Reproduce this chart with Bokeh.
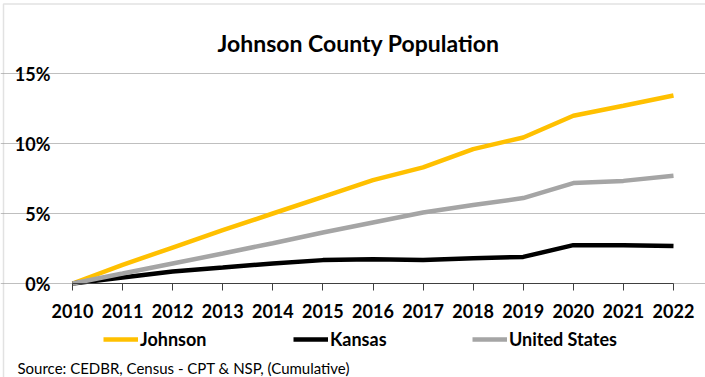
from bokeh.plotting import figure
from bokeh.models import (Range1d, FixedTicker, PrintfTickFormatter, Legend, LegendItem,
                          Label, BasicTickFormatter, BoxAnnotation)
from bokeh.embed import file_html
from bokeh.resources import INLINE

years = [2010, 2011, 2012, 2013, 2014, 2015, 2016, 2017, 2018, 2019, 2020, 2021, 2022]
johnson = [0, 1.33, 2.57, 3.81, 5.0, 6.19, 7.38, 8.29, 9.6, 10.43, 11.98, 12.7, 13.43]
kansas = [0, 0.43, 0.86, 1.14, 1.43, 1.67, 1.74, 1.67, 1.81, 1.9, 2.74, 2.74, 2.67]
united_states = [0, 0.71, 1.43, 2.14, 2.88, 3.64, 4.36, 5.07, 5.6, 6.1, 7.17, 7.33, 7.69]
y_ticks = [0, 5, 10, 15]
series_names = ["Johnson", "Kansas", "United States"]
colors = ["#FFC000", "#000000", "#A5A5A5"]
title_text = "Johnson County Population"
source_text = "Source: CEDBR, Census - CPT & NSP, (Cumulative)"

FONT = "Lato"
W, H = 705, 377
# pixel layout of the plotting area (style only)
PX_L, PX_R, PX_T, PX_B = 72, 673, 73, 283
x0, x1 = years[0], years[-1]
y0, y1 = y_ticks[0], y_ticks[-1]
ppx = (PX_R - PX_L) / (x1 - x0)
ppy = (PX_B - PX_T) / (y1 - y0)
xr = Range1d(x0 - PX_L / ppx, x1 + (W - PX_R) / ppx)
yr = Range1d(y0 - (H - PX_B) / ppy, y1 + PX_T / ppy)

p = figure(width=W, height=H, output_backend="svg", toolbar_location=None,
           x_range=xr, y_range=yr,
           min_border_left=0, min_border_right=0, min_border_top=0, min_border_bottom=0)
p.outline_line_color = None
p.background_fill_color = "white"
p.border_fill_color = "white"

# chart-area border (top and left edges visible in the reference)
p.add_layout(BoxAnnotation(left=3, right=W + 20, top=H - 3.5, bottom=-20,
                           left_units="screen", right_units="screen",
                           top_units="screen", bottom_units="screen",
                           fill_alpha=0, line_color="#A0A0A0", line_width=1.5))

renderers = []
for vals, c in zip([johnson, kansas, united_states], colors):
    r = p.line(years, vals, line_color=c, line_width=4.5)
    renderers.append(r)

# axes
p.xaxis.fixed_location = y0
p.xaxis.bounds = (x0, x1)
p.xaxis.ticker = FixedTicker(ticks=years)
p.xaxis.formatter = BasicTickFormatter(use_scientific=False)
p.xaxis.axis_line_color = "#404040"
p.xaxis.axis_line_width = 1
p.xaxis.major_tick_line_color = "#404040"
p.xaxis.major_tick_out = 7
p.xaxis.major_tick_in = 0
p.xaxis.minor_tick_line_color = None
p.xaxis.major_label_text_font = FONT
p.xaxis.major_label_text_font_style = "bold"
p.xaxis.major_label_text_font_size = "18px"
p.xaxis.major_label_text_color = "#000000"
p.xaxis.major_label_standoff = 13

p.yaxis.fixed_location = x0
p.yaxis.bounds = (y0, y1)
p.yaxis.ticker = FixedTicker(ticks=y_ticks)
p.yaxis.formatter = PrintfTickFormatter(format="%d%%")
p.yaxis.axis_line_color = None
p.yaxis.major_tick_line_color = None
p.yaxis.minor_tick_line_color = None
p.yaxis.major_tick_out = 0
p.yaxis.major_label_text_font = FONT
p.yaxis.major_label_text_font_style = "bold"
p.yaxis.major_label_text_font_size = "18px"
p.yaxis.major_label_text_color = "#000000"
p.yaxis.major_label_standoff = 22

p.xgrid.grid_line_color = None
p.ygrid.grid_line_color = "#BFBFBF"
p.ygrid.grid_line_width = 1
p.ygrid.bounds = (x0, x1)

legend_x = [103, 293, 472]
for n, r, lx in zip(series_names, renderers, legend_x):
    lg = Legend(items=[LegendItem(label=n, renderers=[r])],
                orientation="horizontal", location=(lx, H - 350),
                glyph_width=35, glyph_height=20, label_height=20, label_standoff=2,
                padding=0, margin=0,
                border_line_color=None, background_fill_alpha=0,
                label_text_font=FONT, label_text_font_style="bold",
                label_text_font_size="18px", label_text_color="#000000")
    p.add_layout(lg, "center")

title = Label(x=358, y=H - 42, x_units="screen", y_units="screen", text=title_text,
              text_font=FONT, text_font_size="23px", text_font_style="bold",
              text_color="#000000", text_align="center", text_baseline="alphabetic")
p.add_layout(title)

src = Label(x=17, y=H - 367, x_units="screen", y_units="screen", text=source_text,
            text_font=FONT, text_font_size="15px", text_color="#000000",
            text_align="left", text_baseline="alphabetic")
p.add_layout(src)

open("out.html", "w").write(file_html(p, INLINE))
